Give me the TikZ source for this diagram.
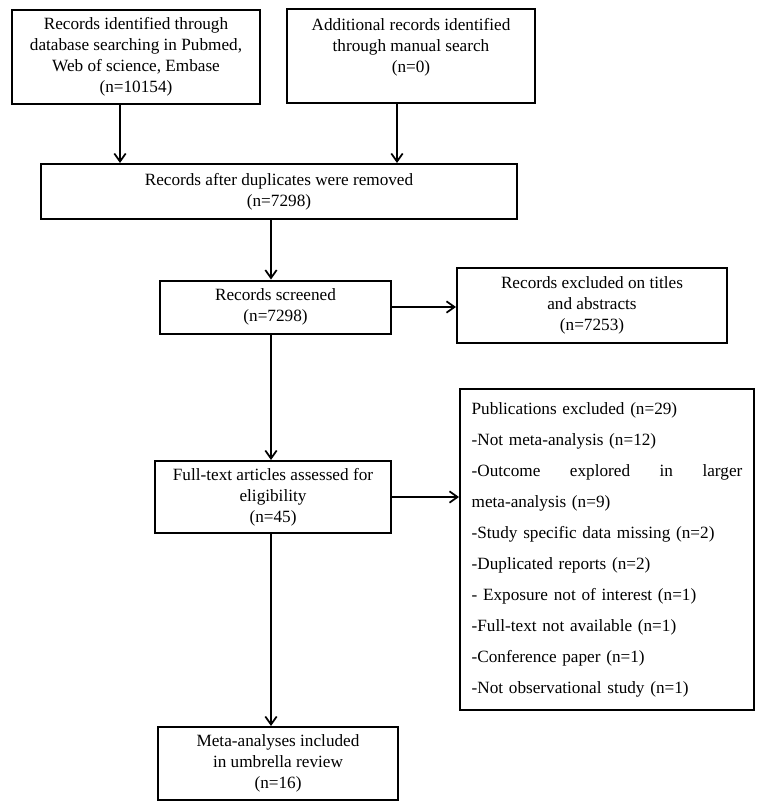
\documentclass[tikz,border=0pt]{standalone}
\usepackage{fontspec}
\setmainfont{Liberation Serif}
\usetikzlibrary{arrows.meta}
\begin{document}
\begin{tikzpicture}[x=0.75pt,y=-0.75pt,
  box/.style={draw=black,line width=1.5pt,align=center,inner sep=2pt,
    font=\fontsize{12.9}{15.75}\selectfont},
  arr/.style={line width=1.3pt,-{Straight Barb[length=6pt,width=8.5pt,line width=1.3pt]}}]
\useasboundingbox (0,0) rectangle (765,808);
\fill[white] (0,0) rectangle (765,808);
\node[box,minimum width=186pt,minimum height=70.5pt] (b1) at (136,57)
  {Records identified through\\database searching in Pubmed,\\Web of science, Embase\\(n=10154)};
\node[box,minimum width=186pt,minimum height=70.5pt] (b2) at (411,56)
  {Additional records identified\\through manual search\\(n=0)\\\mbox{}};
\node[box,minimum width=357pt,minimum height=41.25pt] (b3) at (279,191.5)
  {Records after duplicates were removed\\(n=7298)};
\node[box,minimum width=173.25pt,minimum height=39.75pt] (b4) at (275.5,307)
  {Records screened\\(n=7298)};
\node[box,minimum width=202.5pt,minimum height=56.25pt] (b5) at (592,305.5)
  {Records excluded on titles\\and abstracts\\(n=7253)};
\node[box,minimum width=177pt,minimum height=54pt] (b6) at (273,497)
  {Full-text articles assessed for\\eligibility\\(n=45)};
\node[box,minimum width=220.5pt,minimum height=240.75pt,text width=203pt,align=left,
  font=\fontsize{12.9}{23.25}\selectfont] (b7) at (607,549.5)
  {Publications excluded (n=29)\\
   -Not meta-analysis (n=12)\\
   \makebox[203pt][s]{-Outcome\hfill explored\hfill in\hfill larger}\\
   meta-analysis (n=9)\\
   -Study specific data missing (n=2)\\
   -Duplicated reports (n=2)\\
   - Exposure not of interest (n=1)\\
   -Full-text not available (n=1)\\
   -Conference paper (n=1)\\
   -Not observational study (n=1)};
\node[box,minimum width=180pt,minimum height=54.75pt] (b8) at (278,763.5)
  {Meta-analyses included\\in umbrella review\\(n=16)};
\coordinate (x1) at (120,0);
\coordinate (x2) at (397,0);
\coordinate (xm) at (271,0);
\draw[arr] (b1.south -| x1) -- (b3.north -| x1);
\draw[arr] (b2.south -| x2) -- (b3.north -| x2);
\draw[arr] (b3.south -| xm) -- (b4.north -| xm);
\draw[arr] (b4.east) -- (b4.east -| b5.west);
\draw[arr] (b4.south -| xm) -- (b6.north -| xm);
\draw[arr] (b6.east) -- (b6.east -| b7.west);
\draw[arr] (b6.south -| xm) -- (b8.north -| xm);
\end{tikzpicture}
\end{document}
